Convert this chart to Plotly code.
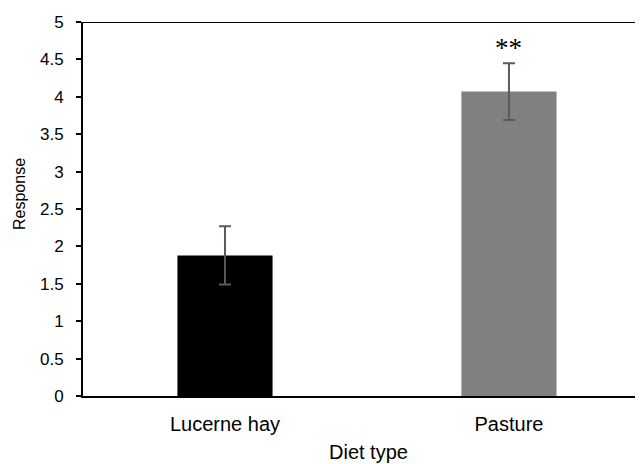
import plotly.graph_objects as go

diets = ['Lucerne hay', 'Pasture']
response = [1.88, 4.07]
err = [0.39, 0.38]
bar_colors = ['#000000', '#808080']
y_ticks = [0, 0.5, 1, 1.5, 2, 2.5, 3, 3.5, 4, 4.5, 5]
y_labels = ['0', '0.5', '1', '1.5', '2', '2.5', '3', '3.5', '4', '4.5', '5']

# page body has an 8px margin, so the figure is drawn 8px smaller and shifted
fig = go.Figure()
fig.add_trace(go.Bar(
    x=diets, y=response,
    marker=dict(color=bar_colors, line=dict(width=0)),
    error_y=dict(type='data', array=err, color='#5a5a5a', thickness=2, width=6),
    width=0.335,
))

# significance marker
fig.add_annotation(x='Pasture', y=4.45, yshift=15, text='**', showarrow=False,
                   font=dict(family='Liberation Serif', size=27, color='#000'))

# axis titles placed by hand
fig.add_annotation(xref='paper', yref='paper', x=(20 - 83) / 560, y=(396 - 194) / 374,
                   text='Response', textangle=-90, showarrow=False,
                   xanchor='center', yanchor='middle', font=dict(size=16))
fig.add_annotation(xref='paper', yref='paper', x=(368 - 83) / 560, y=-(452 - 396) / 374,
                   text='Diet type', showarrow=False, xanchor='center', yanchor='middle',
                   font=dict(size=20))

# top border line
fig.add_shape(type='line', xref='paper', yref='y', x0=0, x1=1, y0=5, y1=5,
              line=dict(color='#000', width=2))

fig.update_layout(
    width=635, height=456,
    margin={"r": 0, "t": 14, "l": 75, "b": 68},
    paper_bgcolor='white', plot_bgcolor='white',
    font=dict(family='Liberation Sans', size=16, color='#000'),
    showlegend=False,
)
fig.update_xaxes(range=[-0.5, 1.472], showline=True, linecolor='#000', linewidth=2,
                 ticks='', showgrid=False, automargin=False, ticklabelstandoff=9,
                 tickfont=dict(size=20))
fig.update_yaxes(range=[0, 5], tickvals=y_ticks, ticktext=y_labels, showline=True,
                 linecolor='#000', linewidth=2, ticks='outside', ticklen=5,
                 tickcolor='#000', tickwidth=2, showgrid=False, zeroline=False,
                 automargin=False, ticklabelstandoff=9, tickfont=dict(size=17))

fig.write_html("out.html")
